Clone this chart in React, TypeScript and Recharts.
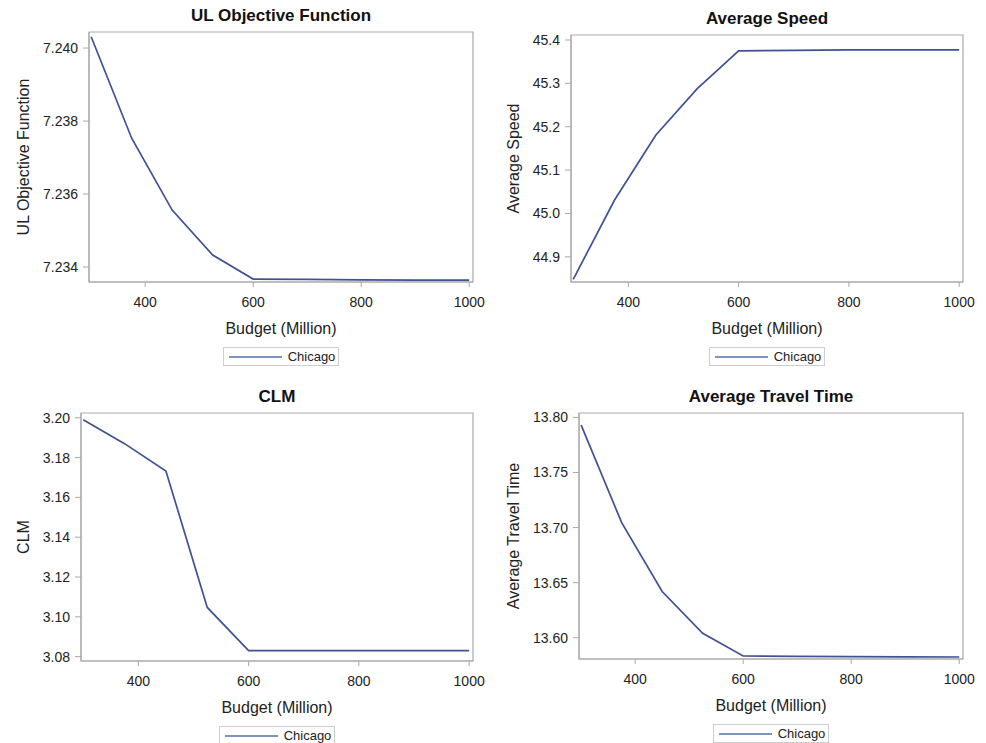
import React from 'react';
import { LineChart, Line, XAxis, YAxis, ReferenceArea, Legend, Label } from 'recharts';

// Four SAS-style line panels: network measures vs. budget for Chicago.

const budget = [300, 375, 450, 525, 600, 700, 800, 900, 1000];
const ulObjective = [7.24031, 7.23753, 7.23556, 7.23433, 7.23367, 7.23366, 7.23365, 7.23364, 7.23364];
const avgSpeed = [44.848, 45.031, 45.181, 45.288, 45.375, 45.376, 45.377, 45.377, 45.377];
const clm = [3.199, 3.187, 3.1733, 3.1047, 3.083, 3.083, 3.083, 3.083, 3.083];
const avgTravelTime = [13.793, 13.7045, 13.642, 13.604, 13.5834, 13.583, 13.5828, 13.5826, 13.5825];

const budgetTicks = [400, 600, 800, 1000];
const ulTicks = [7.234, 7.236, 7.238, 7.24];
const speedTicks = [44.9, 45.0, 45.1, 45.2, 45.3, 45.4];
const clmTicks = [3.08, 3.1, 3.12, 3.14, 3.16, 3.18, 3.2];
const travelTicks = [13.6, 13.65, 13.7, 13.75, 13.8];

const seriesName = 'Chicago';
const xLabel = 'Budget (Million)';

const X_DOMAIN: [number, number] = [296, 1007];
const X_AXIS_H = 60;
const FRAME = '#a9a9a9';
const LINE = '#3f5293';
const FONT = '"Liberation Sans", Arial, sans-serif';

type Box = { x: number; y: number; w: number; h: number };
type Plot = { l: number; r: number; t: number; b: number };

function LegendBox() {
  return (
    <div style={{ display: 'flex', justifyContent: 'center' }}>
      <div
        style={{
          display: 'flex',
          alignItems: 'center',
          border: '1px solid #cdcdcd',
          height: 17,
          padding: '0 3px 0 5px',
          fontSize: 13,
          color: '#222',
          fontFamily: FONT,
        }}
      >
        <svg width={53} height={4} style={{ marginRight: 6 }}>
          <line x1={0} y1={2} x2={53} y2={2} stroke="#5270ad" strokeWidth={1.5} />
        </svg>
        <span>{seriesName}</span>
      </div>
    </div>
  );
}

function Panel({
  title,
  yLabel,
  values,
  yDomain,
  yTicks,
  decimals,
  box,
  plot,
}: {
  title: string;
  yLabel: string;
  values: number[];
  yDomain: [number, number];
  yTicks: number[];
  decimals: number;
  box: Box;
  plot: Plot;
}) {
  const data = budget.map((b, i) => ({ budget: b, value: values[i] }));
  const top = plot.t - box.y;
  const right = box.x + box.w - plot.r;
  const yWidth = plot.l - box.x;
  const bottom = box.y + box.h - plot.b - X_AXIS_H;
  const cx = (plot.l + plot.r) / 2 - box.x;
  const cy = (plot.t + plot.b) / 2 - box.y;
  const pb = plot.b - box.y;

  return (
    <div style={{ position: 'absolute', left: box.x, top: box.y, width: box.w, height: box.h }}>
      <div
        style={{
          position: 'absolute',
          left: cx - 150,
          width: 300,
          top: top - 27,
          height: 22,
          lineHeight: '22px',
          textAlign: 'center',
          fontWeight: 'bold',
          fontSize: 17,
          color: '#111',
          fontFamily: FONT,
        }}
      >
        {title}
      </div>
      <LineChart width={box.w} height={box.h} data={data} margin={{ top, right, bottom, left: 0 }}>
        <XAxis
          dataKey="budget"
          type="number"
          domain={X_DOMAIN}
          allowDataOverflow
          ticks={budgetTicks}
          height={X_AXIS_H}
          tickSize={5}
          tickMargin={10}
          axisLine={{ stroke: FRAME }}
          tickLine={{ stroke: FRAME }}
          tick={{ fill: '#222', fontSize: 14 }}
        >
          <Label
            content={() => (
              <text x={cx} y={pb + 46} textAnchor="middle" dominantBaseline="central" fontSize={16} fill="#222">
                {xLabel}
              </text>
            )}
          />
        </XAxis>
        <YAxis
          type="number"
          domain={yDomain}
          allowDataOverflow
          ticks={yTicks}
          tickFormatter={(v: number) => v.toFixed(decimals)}
          width={yWidth}
          tickSize={6}
          tickMargin={5}
          axisLine={{ stroke: FRAME }}
          tickLine={{ stroke: FRAME }}
          tick={{ fill: '#222', fontSize: 14 }}
        >
          <Label
            content={() => (
              <text
                x={23}
                y={cy}
                transform={`rotate(-90, 23, ${cy})`}
                textAnchor="middle"
                dominantBaseline="central"
                fontSize={16}
                fill="#222"
              >
                {yLabel}
              </text>
            )}
          />
        </YAxis>
        <ReferenceArea
          x1={X_DOMAIN[0]}
          x2={X_DOMAIN[1]}
          y1={yDomain[0]}
          y2={yDomain[1]}
          ifOverflow="visible"
          fill="none"
          stroke={FRAME}
          strokeWidth={1.2}
        />
        <Line
          type="linear"
          dataKey="value"
          name={seriesName}
          stroke={LINE}
          strokeWidth={1.7}
          dot={false}
          isAnimationActive={false}
        />
        <Legend
          verticalAlign="middle"
          align="center"
          layout="horizontal"
          wrapperStyle={{ top: pb + 65, left: cx - 150, width: 300 }}
          content={() => <LegendBox />}
        />
      </LineChart>
    </div>
  );
}

export default function App() {
  return (
    <div
      style={{
        position: 'absolute',
        left: 0,
        top: 0,
        width: 986,
        height: 743,
        background: '#fff',
        fontFamily: FONT,
        overflow: 'hidden',
      }}
    >
      <Panel
        title="UL Objective Function"
        yLabel="UL Objective Function"
        values={ulObjective}
        yDomain={[7.23359, 7.24044]}
        yTicks={ulTicks}
        decimals={3}
        box={{ x: 0, y: 0, w: 490, h: 372 }}
        plot={{ l: 89, r: 473, t: 32, b: 282 }}
      />
      <Panel
        title="Average Speed"
        yLabel="Average Speed"
        values={avgSpeed}
        yDomain={[44.842, 45.4115]}
        yTicks={speedTicks}
        decimals={1}
        box={{ x: 490, y: 0, w: 496, h: 372 }}
        plot={{ l: 571, r: 963, t: 35, b: 282 }}
      />
      <Panel
        title="CLM"
        yLabel="CLM"
        values={clm}
        yDomain={[3.0778, 3.2024]}
        yTicks={clmTicks}
        decimals={2}
        box={{ x: 0, y: 376, w: 490, h: 367 }}
        plot={{ l: 81, r: 473, t: 413, b: 661 }}
      />
      <Panel
        title="Average Travel Time"
        yLabel="Average Travel Time"
        values={avgTravelTime}
        yDomain={[13.5807, 13.804]}
        yTicks={travelTicks}
        decimals={2}
        box={{ x: 490, y: 376, w: 496, h: 367 }}
        plot={{ l: 579, r: 963, t: 413, b: 659 }}
      />
    </div>
  );
}
